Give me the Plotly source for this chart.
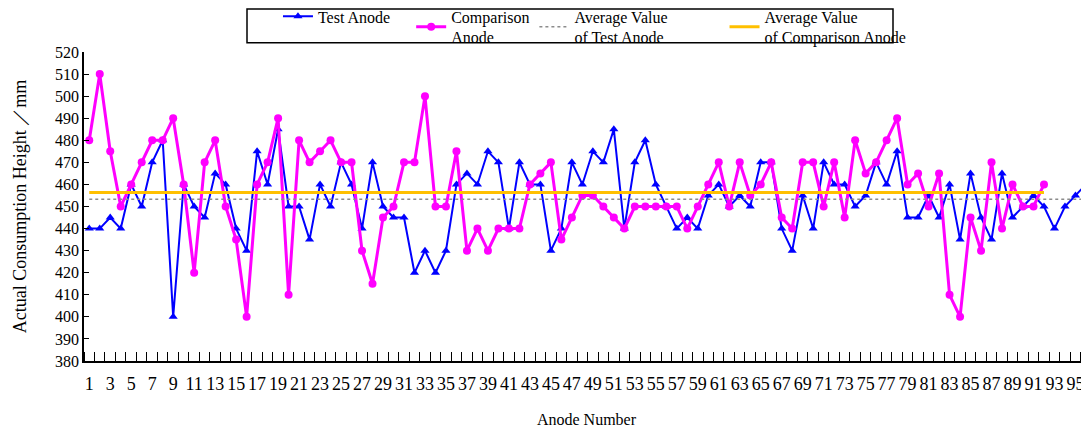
import numpy as np
import plotly.graph_objects as go

# Anode numbers and measured actual consumption heights (mm)
test_anode = [440, 440, 445, 440, 460, 450, 470, 480, 400, 460,
              450, 445, 465, 460, 440, 430, 475, 460, 485, 450,
              450, 435, 460, 450, 470, 460, 440, 470, 450, 445,
              445, 420, 430, 420, 430, 460, 465, 460, 475, 470,
              440, 470, 460, 460, 430, 440, 470, 460, 475, 470,
              485, 440, 470, 480, 460, 450, 440, 445, 440, 455,
              460, 450, 455, 450, 470, 470, 440, 430, 455, 440,
              470, 460, 460, 450, 455, 470, 460, 475, 445, 445,
              455, 445, 460, 435, 465, 445, 435, 465, 445, 450,
              455, 450, 440, 450, 455, 460]
comparison_anode = [480, 510, 475, 450, 460, 470, 480, 480, 490, 460,
                    420, 470, 480, 450, 435, 400, 460, 470, 490, 410,
                    480, 470, 475, 480, 470, 470, 430, 415, 445, 450,
                    470, 470, 500, 450, 450, 475, 430, 440, 430, 440,
                    440, 440, 460, 465, 470, 435, 445, 455, 455, 450,
                    445, 440, 450, 450, 450, 450, 450, 440, 450, 460,
                    470, 450, 470, 455, 460, 470, 445, 440, 470, 470,
                    450, 470, 445, 480, 465, 470, 480, 490, 460, 465,
                    450, 465, 410, 400, 445, 430, 470, 440, 460, 450,
                    450, 460]
test_numbers = list(range(1, len(test_anode) + 1))
comp_numbers = list(range(1, len(comparison_anode) + 1))
x_tick_labels = [str(n) for n in range(1, 96, 2)]
y_ticks = list(range(380, 521, 10))
series_names = ["Test Anode",
                "Comparison<br>Anode",
                "Average Value<br>of Test Anode",
                "Average Value<br>of Comparison Anode"]

test_avg = float(np.mean(test_anode))
comp_avg = float(np.mean(comparison_anode))

SERIF = "Liberation Serif, Times New Roman, serif"
NB = "\u00a0"

fig = go.Figure()
fig.add_trace(go.Scatter(
    x=test_numbers, y=test_anode, mode="lines+markers",
    name=series_names[0] + NB * 4,
    line=dict(color="#0000FF", width=2),
    marker=dict(symbol="triangle-up", size=8, color="#0000FF")))
fig.add_trace(go.Scatter(
    x=comp_numbers, y=comparison_anode, mode="lines+markers",
    name=series_names[1],
    line=dict(color="#FF00FF", width=3),
    marker=dict(symbol="circle", size=8, color="#FF00FF")))
fig.add_trace(go.Scatter(
    x=test_numbers, y=[test_avg] * len(test_numbers), mode="lines",
    name=series_names[2].replace("Value", "Value" + NB * 13),
    line=dict(color="#8c8c8c", width=1.5, dash="dot")))
fig.add_trace(go.Scatter(
    x=comp_numbers, y=[comp_avg] * len(comp_numbers), mode="lines",
    name=series_names[3],
    line=dict(color="#FFC000", width=3)))

# page body adds an 8px offset, so the figure is 8px smaller on each axis
fig.update_layout(
    width=1081, height=422,
    margin=dict(l=76, r=0, t=44, b=69, autoexpand=False),
    paper_bgcolor="white", plot_bgcolor="white",
    font=dict(family=SERIF, color="black", size=16),
    showlegend=True,
    legend=dict(
        orientation="h", x=0.193, y=1.17, xanchor="left", yanchor="top",
        borderwidth=0, bgcolor="rgba(0,0,0,0)",
        font=dict(family=SERIF, size=16), itemwidth=30,
        tracegroupgap=0, valign="middle"),
    shapes=[dict(type="rect", xref="paper", yref="paper",
                 x0=(247 - 84) / 1005, x1=(893 - 84) / 1005,
                 y0=(360.7 - 43) / 308.4, y1=(360.7 - 9.5) / 308.4,
                 line=dict(color="black", width=1.5),
                 fillcolor="rgba(0,0,0,0)", layer="below")],
    xaxis=dict(
        range=[0.5, 96.29], tickmode="array", automargin=False,
        tickvals=list(range(1, 96, 2)), ticktext=x_tick_labels,
        tickangle=0, ticks="", showgrid=False, zeroline=False,
        showline=True, linecolor="black", linewidth=1.5,
        tickfont=dict(family=SERIF, size=18), ticklabelstandoff=6,
        minor=dict(tickvals=[k + 0.5 for k in range(0, 97)],
                   ticks="inside", ticklen=9, tickcolor="black",
                   tickwidth=1, showgrid=False),
        title=dict(text="Anode Number", font=dict(family=SERIF, size=16),
                   standoff=20)),
    yaxis=dict(
        range=[380, 520], tickmode="array", tickvals=y_ticks,
        automargin=False,
        ticks="inside", ticklen=5, tickcolor="black",
        showgrid=False, zeroline=False,
        showline=True, linecolor="black", linewidth=1.5,
        tickfont=dict(family=SERIF, size=16),
        title=dict(text="Actual Consumption Height ／mm",
                   font=dict(family=SERIF, size=18), standoff=24)),
)

fig.write_html("out.html")
